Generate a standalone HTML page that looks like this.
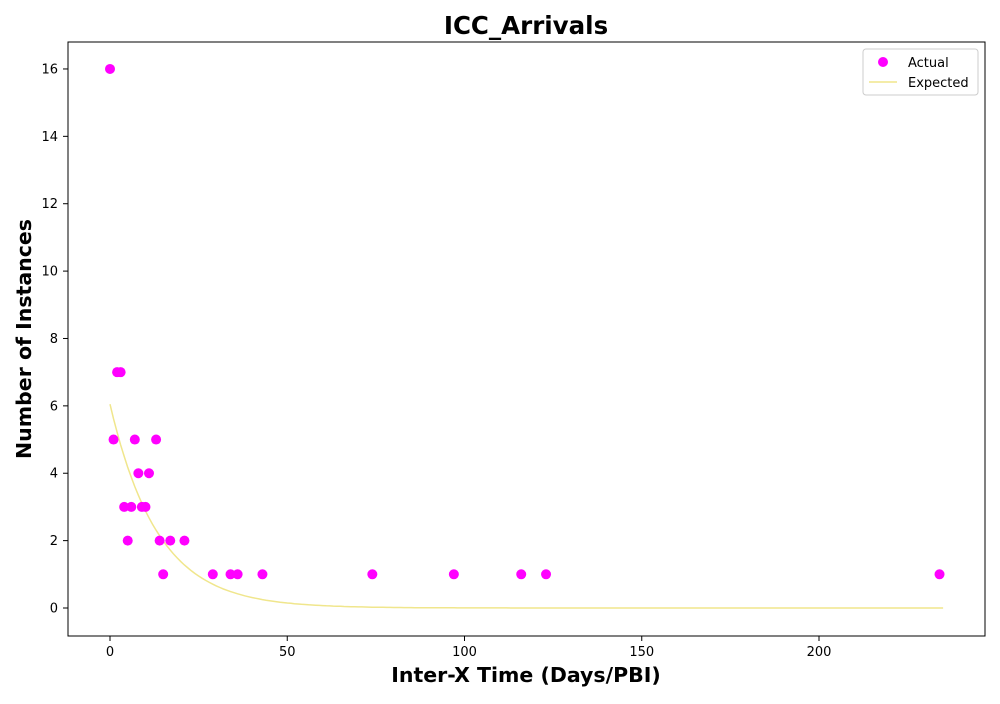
<!DOCTYPE html>
<html><head><meta charset="utf-8"><style>
body{margin:0;background:#fff;font-family:"DejaVu Sans","Liberation Sans",sans-serif}
</style></head><body>
<svg id="chart" width="1000" height="700" font-family="DejaVu Sans, Liberation Sans, sans-serif">
<rect width="1000" height="700" fill="#fff"/>
<text x="526" y="34" text-anchor="middle" font-size="24.5" font-weight="bold">ICC_Arrivals</text>
<text x="526" y="682" text-anchor="middle" font-size="20.5" font-weight="bold">Inter-X Time (Days/PBI)</text>
<text transform="translate(31,339) rotate(-90)" text-anchor="middle" font-size="20.5" font-weight="bold">Number of Instances</text>
<g id="axes"></g>
<g id="marks"></g>
<rect x="68" y="42" width="917" height="594" fill="none" stroke="#000" stroke-width="1"/>
<g>
<rect x="863" y="49" width="115" height="46" rx="3" fill="#fff" stroke="#ccc"/>
<circle cx="883" cy="62" r="5" fill="#ff00ff"/>
<text x="908" y="67" font-size="13">Actual</text>
<line x1="869" y1="82" x2="897" y2="82" stroke="#f0e68c" stroke-width="1.5"/>
<text x="908" y="87" font-size="13">Expected</text>
</g>
</svg>
<script>
const actualX=[0,1,2,3,4,5,6,7,8,9,10,11,13,14,15,17,21,29,34,36,43,74,97,116,123,234];
const actualY=[16,5,7,7,3,2,3,5,4,3,3,4,5,2,1,2,2,1,1,1,1,1,1,1,1,1];
const expectedAmp=[6.05];
const expectedScale=[13.5];
const xTicks=[0,50,100,150,200];
const yTicks=[0,2,4,6,8,10,12,14,16];
const NS="http://www.w3.org/2000/svg";
function sx(v){return 110+v*3.545;}
function sy(v){return 608-v*33.69;}
function mk(t,a,p){const e=document.createElementNS(NS,t);for(const k in a)e.setAttribute(k,a[k]);p.appendChild(e);return e;}
const axes=document.getElementById('axes'),marks=document.getElementById('marks');
xTicks.forEach(t=>{
 const l=mk('line',{x1:sx(t),x2:sx(t),y1:636,y2:641,stroke:'#000'},axes);
 
 
 const tx=mk('text',{x:sx(t),y:656,'text-anchor':'middle','font-size':13},axes);tx.textContent=t;
 
 
});
yTicks.forEach(t=>{
 const l=mk('line',{x1:63,x2:68,y1:sy(t),y2:sy(t),stroke:'#000'},axes);
 
 
 const tx=mk('text',{x:58,y:sy(t)+4.5,'text-anchor':'end','font-size':13},axes);tx.textContent=t;
 
 
});
let d='';
for(let x=0;x<=235;x+=1){const y=expectedAmp[0]*Math.exp(-x/expectedScale[0]);d+=(x?'L':'M')+sx(x).toFixed(1)+' '+sy(y).toFixed(1);}
const path=mk('path',{d:d,fill:'none',stroke:'#f0e68c','stroke-width':1.5},marks);


actualX.forEach((x,i)=>{
 const c=mk('circle',{cx:sx(x),cy:sy(actualY[i]),r:5,fill:'#ff00ff'},marks);
 
 
});
</script>
</body></html>
